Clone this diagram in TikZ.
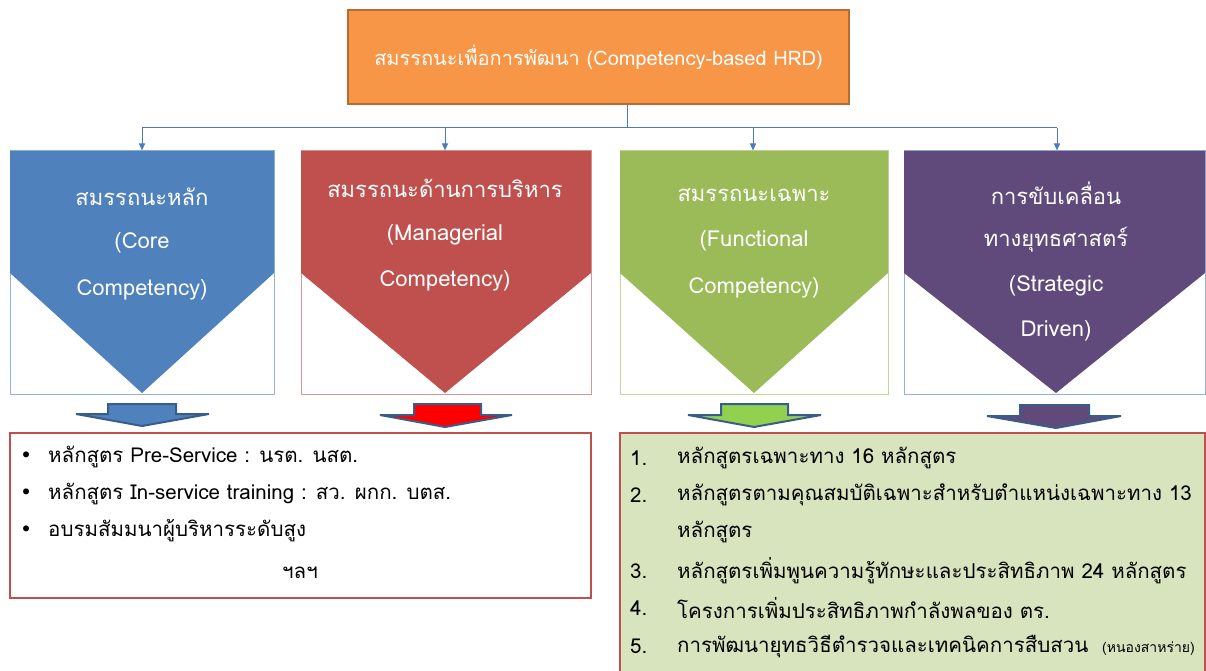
\documentclass[tikz,border=0pt]{standalone}
\usepackage{fontspec}
\setmainfont{Loma}[Script=Thai]
\newfontfamily\dejavu{DejaVu Sans}
\usetikzlibrary{arrows.meta}
\definecolor{cblue}{HTML}{4F81BD}
\definecolor{cred}{HTML}{C0504D}
\definecolor{cgreen}{HTML}{9BBB59}
\definecolor{cpurple}{HTML}{604A7B}
\definecolor{corange}{HTML}{F79646}
\definecolor{corangeb}{HTML}{B66D31}
\definecolor{arrowline}{HTML}{385D8A}
\definecolor{lgreen}{HTML}{D7E4BD}
\definecolor{connc}{HTML}{4A7EBB}
\definecolor{lblue}{HTML}{95B3D7}
\definecolor{lred}{HTML}{D99694}
\definecolor{lgreenb}{HTML}{C3D69B}
\definecolor{brgreen}{HTML}{92D050}
\tikzset{
  topbox/.style={draw=corangeb, fill=corange, line width=2pt, minimum width=501pt, minimum height=94pt, inner sep=0pt, text=white, font=\fontsize{20}{24}\selectfont},
  catbox/.style={line width=1pt, fill=white, minimum height=243pt, inner sep=0pt},
  conn/.style={draw=connc, line width=1pt},
  connarrow/.style={conn, -{Triangle[length=7pt,width=6pt]}},
  blockarrow/.style={draw=arrowline, line width=2pt, line join=miter},
  cattext/.style={text=white, font=\fontsize{22}{26}\selectfont, inner sep=0pt},
  listbox/.style={draw=cred, line width=2pt, inner sep=0pt},
  listtext/.style={anchor=west, inner sep=0pt, font=\fontsize{20.5}{24}\selectfont},
}
\begin{document}
\begin{tikzpicture}[x=1pt,y=-1pt]
\useasboundingbox (0,0) rectangle (1206,671);
\clip (0,0) rectangle (1206,671);
% top box
\node[topbox] (top) at (598.5,57) {สมรรถนะเพื่อการพัฒนา (Competency-based HRD)};
% category boxes (outlines)
\node[catbox, draw=lblue, minimum width=264pt] (b1) at (142,272.5) {};
\node[catbox, draw=lred, minimum width=290pt] (b2) at (446,272.5) {};
\node[catbox, draw=lgreenb, minimum width=268pt] (b3) at (754,272.5) {};
\node[catbox, draw=lblue, minimum width=301pt] (b4) at (1054.5,272.5) {};
% chevrons
\fill[cblue] (10,151) -- (274,151) -- (274,273) -- (142,393) -- (10,273) -- cycle;
\fill[cred] (301,151) -- (591,151) -- (591,273) -- (445,393) -- (301,273) -- cycle;
\fill[cgreen] (620,151) -- (888,151) -- (888,273) -- (754,393) -- (620,273) -- cycle;
\fill[cpurple] (904,151) -- (1205,151) -- (1205,273) -- (1056,393) -- (904,273) -- cycle;
% connectors
\coordinate (bar) at (627,128);
\coordinate (a1) at (142,128);
\coordinate (a2) at (445,128);
\coordinate (a3) at (753,128);
\coordinate (a4) at (1057,128);
\draw[conn] (bar |- top.south) -- (bar);
\draw[conn] (a1) -- (a4);
\draw[connarrow] (a1) -- (a1 |- b1.north);
\draw[connarrow] (a2) -- (a2 |- b2.north);
\draw[connarrow] (a3) -- (a3 |- b3.north);
\draw[connarrow] (a4) -- (a4 |- b4.north);
% category texts
\node[cattext] (t1a) at (142,197) {สมรรถนะหลัก};
\node[cattext] (t1b) at (142,243) {(Core};
\node[cattext] (t1c) at (142,290) {Competency)};
\node[cattext] (t2a) at (445,188) {สมรรถนะด้านการบริหาร};
\node[cattext] (t2b) at (445,235) {(Managerial};
\node[cattext] (t2c) at (445,281) {Competency)};
\node[cattext] (t3a) at (754,195) {สมรรถนะเฉพาะ};
\node[cattext] (t3b) at (754,241) {(Functional};
\node[cattext] (t3c) at (754,288) {Competency)};
\node[cattext] (t4a) at (1056,193) {การขับเคลื่อน};
\node[cattext] (t4b) at (1056,240) {ทางยุทธศาสตร์};
\node[cattext] (t4c) at (1056,286) {(Strategic};
\node[cattext] (t4d) at (1056,331) {Driven)};
% block arrows
\filldraw[blockarrow, fill=cblue] (108,404) -- (176,404) -- (176,414) -- (209,414) -- (142,426) -- (76,414) -- (108,414) -- cycle;
\filldraw[blockarrow, fill=red] (414,404) -- (481,404) -- (481,415) -- (512,415) -- (445,427) -- (380,415) -- (414,415) -- cycle;
\filldraw[blockarrow, fill=brgreen] (721,404) -- (788,404) -- (788,415) -- (821,415) -- (754,427) -- (688,415) -- (721,415) -- cycle;
\filldraw[blockarrow, fill=cpurple] (1020,405) -- (1089,405) -- (1089,416) -- (1121,416) -- (1056,428) -- (987,416) -- (1020,416) -- cycle;
% list boxes
\node[listbox, fill=white, minimum width=581pt, minimum height=165pt] (l1) at (300.5,515.5) {};
\node[listbox, fill=lgreen, minimum width=585pt, minimum height=250pt] (l2) at (912.5,558) {};
% left list
\node[listtext] (p1) at (20,457) {{\dejavu •}};
\node[listtext] (x1) at (48,457) {หลักสูตร Pre-Service : นรต. นสต.};
\node[listtext] (p2) at (20,494) {{\dejavu •}};
\node[listtext] (x2) at (48,494) {หลักสูตร In-service training :  สว. ผกก. บตส.};
\node[listtext] (p3) at (20,531) {{\dejavu •}};
\node[listtext] (x3) at (48,531) {อบรมสัมมนาผู้บริหารระดับสูง};
\node[listtext, anchor=center] (x4) at (300,573) {ฯลฯ};
% right list
\node[listtext] (n1) at (630,458) {1.};
\node[listtext] (y1) at (677,458) {หลักสูตรเฉพาะทาง  16 หลักสูตร};
\node[listtext] (n2) at (630,495) {2.};
\node[listtext] (y2) at (677,495) {หลักสูตรตามคุณสมบัติเฉพาะสำหรับตำแหน่งเฉพาะทาง   13};
\node[listtext] (y2b) at (677,532) {หลักสูตร};
\node[listtext] (n3) at (630,571) {3.};
\node[listtext] (y3) at (677,571) {หลักสูตรเพิ่มพูนความรู้ทักษะและประสิทธิภาพ  24 หลักสูตร};
\node[listtext] (n4) at (630,608) {4.};
\node[listtext] (y4) at (677,608) {โครงการเพิ่มประสิทธิภาพกำลังพลของ ตร.};
\node[listtext] (n5) at (630,646) {5.};
\node[listtext] (y5) at (677,646) {การพัฒนายุทธวิธีตำรวจและเทคนิคการสืบสวน \ {\fontsize{14}{16}\selectfont(หนองสาหร่าย)}};
\end{tikzpicture}
\end{document}
